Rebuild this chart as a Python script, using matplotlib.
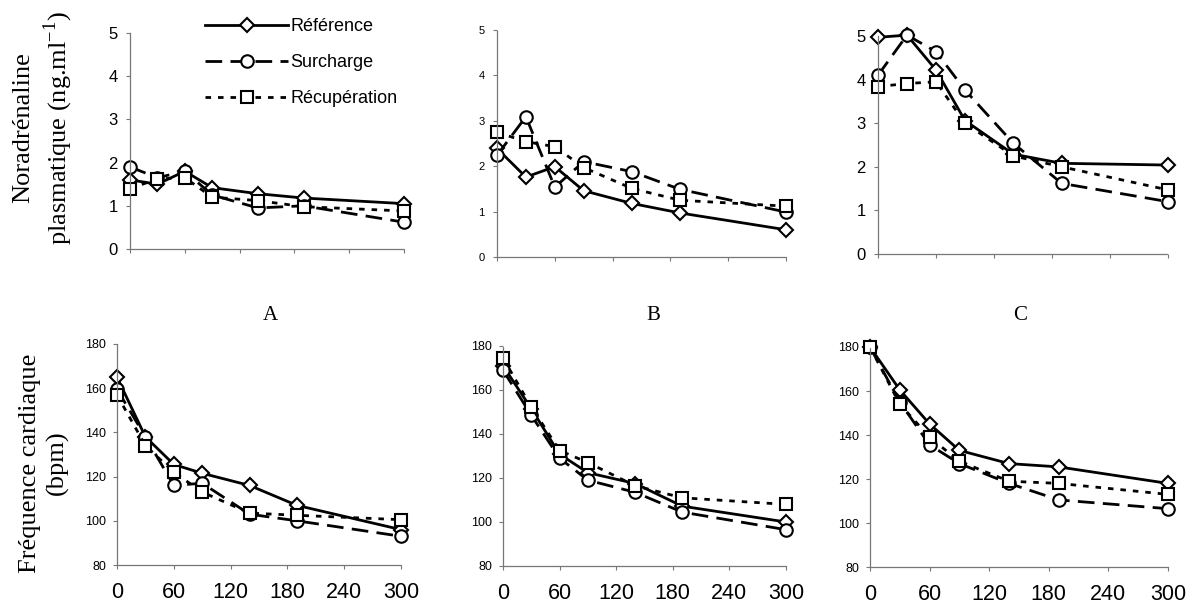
import numpy as np
import matplotlib
matplotlib.use("Agg")
from matplotlib import pyplot as plt

temps = [0, 30, 60, 90, 140, 190, 300]
xticks = [0, 60, 120, 180, 240, 300]
series_names = ["Référence", "Surcharge", "Récupération"]
panel_labels = ["A", "B", "C"]

# noradrenaline (ng/ml)
na_ref_A = [1.6, 1.5, 1.8, 1.42, 1.28, 1.18, 1.05]
na_sur_A = [1.9, 1.65, 1.8, 1.25, 0.95, 1.0, 0.62]
na_rec_A = [1.4, 1.62, 1.65, 1.2, 1.12, 0.98, 0.88]

na_ref_B = [2.39, 1.76, 1.99, 1.46, 1.18, 0.97, 0.6]
na_sur_B = [2.24, 3.09, 1.54, 2.1, 1.88, 1.49, 0.99]
na_rec_B = [2.75, 2.54, 2.43, 1.97, 1.51, 1.25, 1.12]

na_ref_C = [4.97, 5.02, 4.22, 3.06, 2.29, 2.08, 2.04]
na_sur_C = [4.1, 5.02, 4.64, 3.76, 2.54, 1.62, 1.2]
na_rec_C = [3.84, 3.91, 3.95, 3.0, 2.25, 2.0, 1.47]

# frequence cardiaque (bpm)
fc_ref_A = [165, 138, 125.5, 121.5, 116, 107, 96]
fc_sur_A = [159.5, 138, 116, 117, 103, 100, 93]
fc_rec_A = [157, 134, 122, 113, 103.5, 102.5, 100.5]

fc_ref_B = [171, 151.5, 130.8, 122.4, 117.5, 107.2, 100]
fc_sur_B = [169, 148.5, 129, 119, 113.5, 104.5, 96.5]
fc_rec_B = [174.5, 152.3, 132.5, 127, 116.5, 111, 108]

fc_ref_C = [180, 160.5, 145, 133, 127, 125.5, 118]
fc_sur_C = [180, 155, 135.5, 127, 118, 110.5, 106.5]
fc_rec_C = [180, 154, 139, 128, 119, 118, 113]

na_data = [(na_ref_A, na_sur_A, na_rec_A),
           (na_ref_B, na_sur_B, na_rec_B),
           (na_ref_C, na_sur_C, na_rec_C)]
fc_data = [(fc_ref_A, fc_sur_A, fc_rec_A),
           (fc_ref_B, fc_sur_B, fc_rec_B),
           (fc_ref_C, fc_sur_C, fc_rec_C)]

styles = [dict(ls='-', lw=2.0, marker='D', ms=7),
          dict(ls=(0, (6, 3)), lw=2.0, marker='o', ms=9),
          dict(ls=(0, (2, 2.5)), lw=2.0, marker='s', ms=9)]

fig = plt.figure(figsize=(11.9, 6.1), dpi=100)

W, H = 1190, 610
def box(l, r, t, b):
    return [l / W, 1 - b / H, (r - l) / W, (b - t) / H]

top_boxes = [box(130, 404, 33, 249), box(497, 786, 30, 257), box(878, 1168, 36, 254)]
bot_boxes = [box(117, 401, 344, 565), box(503, 786, 346, 566), box(870, 1168, 347, 567)]
top_tick_fs = [12, 8, 12]


def style_axes(ax):
    for s in ['top', 'right']:
        ax.spines[s].set_visible(False)
    for s in ['left', 'bottom']:
        ax.spines[s].set_color('#777777')
        ax.spines[s].set_linewidth(0.9)
        ax.spines[s].set_linestyle((0, (1, 1)))
    ax.tick_params(direction='out', length=3, width=0.8, color='#777777')
    ax.set_xlim(0, 300)
    ax.set_xticks(xticks)


def draw(ax, data):
    lines = []
    for vals, st in zip(data, styles):
        ln, = ax.plot(temps, vals, color='black', mfc='white', mec='black',
                      mew=1.5, clip_on=False, **st)
        lines.append(ln)
    return lines


handles = None
for i in range(3):
    ax = fig.add_axes(top_boxes[i])
    style_axes(ax)
    lines = draw(ax, na_data[i])
    if handles is None:
        handles = lines
    ax.set_ylim(0, 5)
    ax.set_yticks([0, 1, 2, 3, 4, 5])
    ax.set_xticklabels([])
    ax.tick_params(axis='y', labelsize=top_tick_fs[i], pad=6)
    for lab in ax.get_yticklabels():
        lab.set_family('Liberation Sans')

    ax2 = fig.add_axes(bot_boxes[i])
    style_axes(ax2)
    draw(ax2, fc_data[i])
    ax2.set_ylim(80, 180)
    ax2.set_yticks([80, 100, 120, 140, 160, 180])
    ax2.tick_params(axis='y', labelsize=9, pad=5)
    ax2.tick_params(axis='x', labelsize=15.5, pad=9)
    for lab in ax2.get_yticklabels() + ax2.get_xticklabels():
        lab.set_family('Liberation Sans')

# panel letters
for lab, xc in zip(panel_labels, [270, 653, 1020]):
    fig.text(xc / W, 1 - 316 / H, lab, ha='center', va='center',
             fontsize=15, family='Liberation Serif')

# y labels
fig.text(44 / W, 1 - 128 / H, "Noradrénaline\nplasmatique (ng.ml$^{\\mathregular{-1}}$)",
         rotation=90, ha='center', va='center', fontsize=19,
         family='Liberation Serif', linespacing=1.3)
fig.text(44 / W, 1 - 463 / H, "Fréquence cardiaque\n(bpm)",
         rotation=90, ha='center', va='center', fontsize=19,
         family='Liberation Serif', linespacing=1.3)

leg = fig.legend(handles, series_names, loc='upper left',
                 bbox_to_anchor=(189 / W, 1 - 2 / H), frameon=False,
                 handlelength=4.6, handletextpad=0.1, labelspacing=1.05,
                 prop={'family': 'Liberation Sans', 'size': 13})

fig.savefig("out.png", dpi=100)
